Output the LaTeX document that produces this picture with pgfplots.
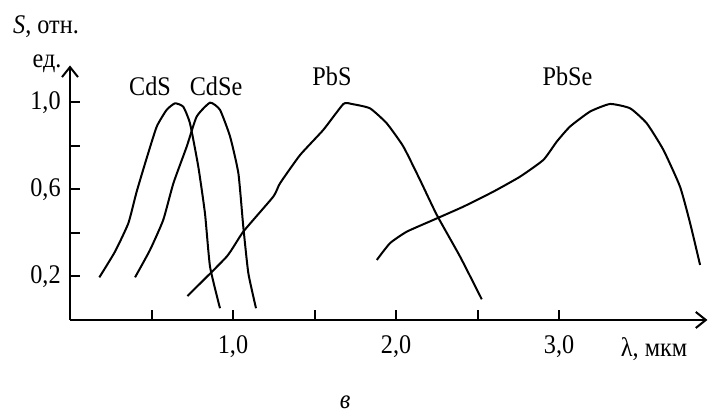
\documentclass[border=0pt]{standalone}
\usepackage{pgfplots}
\pgfplotsset{compat=1.18}
\usetikzlibrary{arrows.meta}
\usepackage{fontspec}
\setmainfont{Liberation Serif}[FakeStretch=0.9]

\begin{document}
\fontsize{13.5}{16}\selectfont
\begin{tikzpicture}
\begin{axis}[
  x=81.5bp, y=108.75bp,
  xmin=0, xmax=3.91, ymin=0, ymax=1.17,
  axis x line=bottom, axis y line=left,
  axis line style={line width=1.2bp, -{Straight Barb[length=5bp,width=8bp,line width=1bp]}},
  xtick={0.5,1,1.5,2,2.5,3}, xticklabels={,{1,0},,{2,0},,{3,0}},
  ytick={0.2,0.4,0.6,0.8,1.0}, yticklabels={{0,2},,{0,6},,{1,0}},
  xticklabel style={yshift=-3bp},
  tick align=inside, major tick length=5bp,
  tick style={line width=1bp, black},
  clip=false,
  cycle list={black\\},
  every axis plot/.append style={line width=1bp, smooth, tension=0.3},
  no markers,
]
% CdS
\addplot coordinates {(0.18,0.196) (0.276,0.314) (0.358,0.445) (0.409,0.59) (0.47,0.743)
  (0.532,0.889) (0.593,0.966) (0.644,0.996) (0.695,0.98) (0.736,0.904) (0.787,0.705)
  (0.828,0.49) (0.859,0.245) (0.92,0.054)};
% CdSe
\addplot coordinates {(0.399,0.196) (0.491,0.322) (0.572,0.46) (0.634,0.628) (0.716,0.797)
  (0.777,0.935) (0.859,0.999) (0.92,0.966) (0.982,0.843) (1.033,0.674) (1.063,0.429)
  (1.094,0.215) (1.141,0.054)};
% PbS
\addplot coordinates {(0.72,0.11) (0.961,0.291) (1.063,0.406) (1.247,0.567) (1.288,0.628)
  (1.411,0.758) (1.554,0.874) (1.677,0.993) (1.728,0.993) (1.84,0.973) (1.943,0.904)
  (2.045,0.797) (2.147,0.644) (2.25,0.483) (2.393,0.291) (2.526,0.095)};
% PbSe
\addplot coordinates {(1.882,0.276) (1.963,0.353) (2.066,0.406) (2.229,0.46) (2.413,0.521)
  (2.597,0.59) (2.761,0.659) (2.904,0.736) (2.986,0.82) (3.067,0.889) (3.19,0.958)
  (3.313,0.993) (3.436,0.973) (3.538,0.904) (3.64,0.782) (3.742,0.613) (3.804,0.445)
  (3.865,0.253)};

\node[anchor=base] at (axis cs:-0.147,1.317) {\textit{S}, отн.};
\node[anchor=base] at (axis cs:-0.141,1.159) {ед.};
\node[anchor=base] at (axis cs:0.491,1.034) {CdS};
\node[anchor=base] at (axis cs:0.896,1.034) {CdSe};
\node[anchor=base] at (axis cs:1.607,1.08) {PbS};
\node[anchor=base] at (axis cs:3.052,1.08) {PbSe};
\node[anchor=base] at (axis cs:3.583,-0.17) {λ, мкм};
\node[anchor=base] at (axis cs:1.687,-0.405) {\textit{в}};

\coordinate (bl) at (axis cs:-0.4294,-0.4184);
\coordinate (tr) at (axis cs:3.926,1.471);
\end{axis}
\pgfresetboundingbox
\path[use as bounding box] (bl) rectangle (tr);
\end{tikzpicture}
\end{document}
